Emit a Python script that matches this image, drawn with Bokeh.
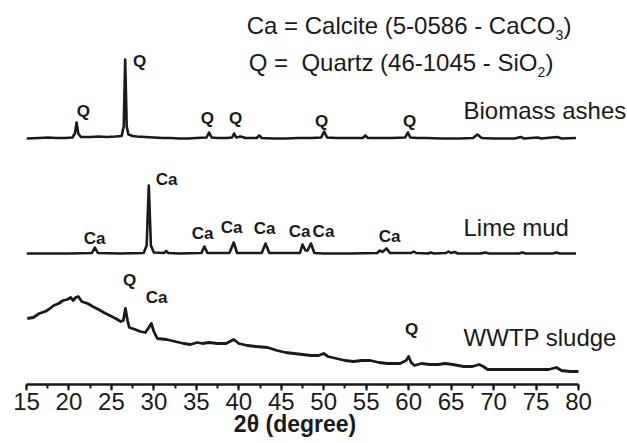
from bokeh.plotting import figure
from bokeh.models import Label, ColumnDataSource, Range1d, SingleIntervalTicker
from bokeh.core.properties import value
from bokeh.embed import file_html
from bokeh.resources import INLINE

# ---------------- data ----------------
# Biomass ashes: intensity above its own baseline (a.u.)
biomass_2theta = [15.0, 16.5, 17.5, 18.5, 19.5, 20.4, 20.7, 20.9, 21.1, 21.4, 22.5, 23.5, 24.5, 25.5,
                  26.2, 26.45, 26.62, 26.8, 27.0, 27.5, 28.0, 29.0, 30.0, 31.0, 32.0, 33.0, 34.0, 35.0,
                  36.2, 36.5, 36.8, 37.5, 38.5, 39.2, 39.45, 39.7, 40.2, 40.8, 42.1, 42.4, 42.7, 44.0,
                  45.5, 47.0, 48.5, 49.7, 50.05, 50.4, 51.5, 53.0, 54.6, 54.9, 55.2, 56.5, 58.0, 59.6,
                  59.9, 60.2, 61.0, 62.0, 64.0, 66.0, 67.6, 68.1, 68.6, 70.0, 72.5, 73.2, 73.6, 75.2,
                  75.6, 77.5, 78.0, 79.7]
biomass_int = [0, 0.5, 1, 0.5, 0.5, 1, 5, 16, 5, 1.5, 1.5, 2, 1.5, 2,
               2.5, 12, 79, 12, 4, 2.5, 2, 1.5, 1, 0.5, 0.5, 0, 0, 0.5,
               1, 6, 1, 0.5, 0.5, 1, 5, 1, 2, 0.5, 0.5, 3, 0.5, 0,
               0, 0.5, 0.5, 1, 7, 1, 0.5, 0.5, 0.5, 3, 0.5, 0.5, 0.5, 1,
               6, 1, 0.5, 0.5, 0, 0, 0.5, 4, 0.5, 0, 0, 1.5, 0, 1,
               0, 1.5, 0, 0.5]

# Lime mud: intensity above its own baseline (a.u.)
lime_2theta = [15.0, 20.0, 22.7, 23.05, 23.4, 26.0, 28.8, 29.15, 29.4, 29.65, 30.0, 31.2, 31.45, 31.7,
               33.0, 35.6, 35.95, 36.3, 38.9, 39.4, 39.8, 42.7, 43.15, 43.6, 47.2, 47.5, 47.85, 48.1,
               48.5, 48.9, 50.0, 53.0, 56.3, 56.6, 56.9, 57.4, 57.8, 60.3, 60.6, 60.9, 62.3, 62.6,
               63.0, 64.4, 64.7, 65.0, 65.4, 65.8, 68.5, 69.0, 69.5, 73.0, 73.4, 73.8, 77.0, 77.4,
               77.8, 79.7]
lime_int = [0, 0, 0.5, 6, 0.5, 0, 0.5, 8, 68, 8, 1, 0.5, 2.5, 0.5,
            0, 0.5, 7, 0.5, 0.5, 11, 0.5, 0.5, 10, 0.5, 0.5, 9, 3, 3,
            10, 0.5, 0, 0, 0.5, 3, 1.5, 5, 0.5, 0.5, 2, 0.5, 0, 1,
            0, 0.5, 2, 0.5, 1.5, 0, 0, 1, 0, 0, 1, 0, 0, 1,
            0, 0]

# WWTP sludge: intensity (a.u.)
wwtp_2theta = [15.1, 15.8, 16.5, 17.2, 17.6, 18.2, 18.8, 19.3, 19.8, 20.2, 20.5, 20.8, 21.1, 21.5,
               22.2, 22.8, 23.5, 24.1, 24.8, 25.5, 26.1, 26.4, 26.65, 26.9, 27.1, 27.8, 28.4, 29.0,
               29.4, 29.7, 30.0, 30.4, 31.5, 32.5, 33.5, 34.3, 35.1, 35.7, 36.5, 37.5, 38.5, 39.4,
               40.0, 41.0, 42.0, 43.4, 44.5, 45.5, 46.5, 47.5, 48.5, 49.4, 50.0, 50.5, 51.5, 52.5,
               53.5, 54.5, 55.5, 56.5, 57.5, 59.0, 59.7, 60.0, 60.3, 60.7, 61.5, 62.5, 63.5, 64.3,
               65.2, 66.5, 67.5, 68.3, 68.8, 69.3, 70.5, 72.0, 73.5, 75.0, 76.5, 77.4, 78.0, 79.0,
               80.0]
wwtp_int = [66, 67, 71, 73, 75, 79, 81, 84, 85, 87, 84, 87, 88, 83,
            81, 78, 75, 72, 69, 66, 63, 64, 76, 64, 57, 55, 53, 52,
            57, 61, 53, 46, 45, 43, 41, 40, 42, 41, 42, 41, 41, 45,
            41, 39, 38, 37, 34, 32, 31, 30, 29, 29, 31, 28, 26, 24,
            23, 24, 24, 22, 21, 21, 24, 28, 22, 19, 21, 20, 20, 21,
            20, 18, 18, 20, 18, 15, 15, 15, 15, 15, 15, 17, 14, 13,
            13]

# vertical offsets of the stacked patterns (a.u.)
biomass_offset = 246
lime_offset = 131

# sample names
sample_names = ["Biomass ashes", "Lime mud", "WWTP sludge"]

# peak labels
peak_text = ["Q", "Q", "Q", "Q", "Q", "Q",
             "Ca", "Ca", "Ca", "Ca", "Ca", "Ca", "Ca", "Ca",
             "Q", "Ca", "Q"]
peak_x = [21.71, 28.31, 36.31, 39.61, 49.74, 60.1,
          23.01, 31.49, 35.73, 39.14, 43.03, 47.15, 49.97, 57.75,
          27.13, 30.31, 60.34]
peak_y = [273, 323, 266, 266, 263, 263,
          146, 205, 151, 157, 156, 153, 153, 148,
          104, 87, 55]

x_ticks_interval = 5
x_axis_bounds = (15, 80)
x_axis_title = "2θ (degree)"

# ---------------- figure ----------------
PX = 8.492  # pixels per degree (layout helper)
p = figure(width=627, height=443, x_range=Range1d(15, 15 + (627 - 26) / PX), y_range=Range1d(0, 384),
           output_backend="svg", toolbar_location=None,
           min_border_left=26, min_border_right=0, min_border_top=0, min_border_bottom=59)
p.outline_line_color = None
p.grid.visible = False
p.yaxis.visible = False
p.background_fill_color = "white"

ink = "#1a1a1a"

p.line(biomass_2theta, [v + biomass_offset for v in biomass_int],
       line_color=ink, line_width=2.6, line_join="round")
p.line(lime_2theta, [v + lime_offset for v in lime_int],
       line_color=ink, line_width=2.6, line_join="round")
p.line(wwtp_2theta, wwtp_int, line_color=ink, line_width=2.8, line_join="round")

src = ColumnDataSource(dict(x=peak_x, y=peak_y, t=peak_text))
p.text(x="x", y="y", text="t", source=src, text_font=value("Liberation Sans"),
       text_font_style="bold", text_font_size="17px", text_align="center",
       text_baseline="middle", text_color=ink)

def px2deg(px):
    return 15 + (px - 26) / PX

# sample names
name_y = [274, 157.5, 47.5]
for nm, yy in zip(sample_names, name_y):
    p.add_layout(Label(x=px2deg(463), y=yy, text=nm, text_font="Liberation Sans",
                       text_font_size="24px", text_color=ink, text_baseline="middle"))

# header legend with subscripts
def hdr(x, y, t, size="24px", align="left"):
    p.add_layout(Label(x=x, y=y, text=t, text_font="Liberation Sans", text_font_size=size,
                       text_color=ink, text_baseline="middle", text_align=align))

hdr(px2deg(555), 359, "Ca = Calcite (5-0586 - CaCO", align="right")
hdr(px2deg(555), 350, "3", size="14px")
hdr(px2deg(563), 359, ")")
hdr(px2deg(537), 322.5, "Q =\u00a0 Quartz (46-1045 - SiO", align="right")
hdr(px2deg(537), 313, "2", size="14px")
hdr(px2deg(545), 322.5, ")")

# axis
ax = p.xaxis[0]
ax.bounds = x_axis_bounds
ax.ticker = SingleIntervalTicker(interval=x_ticks_interval, num_minor_ticks=2)
ax.axis_line_width = 2.5
ax.axis_line_color = ink
ax.major_tick_line_width = 2
ax.major_tick_line_color = ink
ax.minor_tick_line_width = 2
ax.minor_tick_line_color = ink
ax.major_tick_in = 0
ax.major_tick_out = 6
ax.minor_tick_in = 0
ax.minor_tick_out = 4
ax.major_label_text_font = "Liberation Sans"
ax.major_label_text_font_size = "24px"
ax.major_label_text_color = ink
ax.major_label_standoff = 2
# title centred under 15..80 (frame extends further right for the sample names)
ax.axis_label = x_axis_title + "\u00a0" * 10
ax.axis_label_text_font = "Liberation Sans"
ax.axis_label_text_font_size = "23px"
ax.axis_label_text_font_style = "bold"
ax.axis_label_text_color = ink
ax.axis_label_standoff = -2

open("out.html", "w").write(file_html(p, INLINE))
